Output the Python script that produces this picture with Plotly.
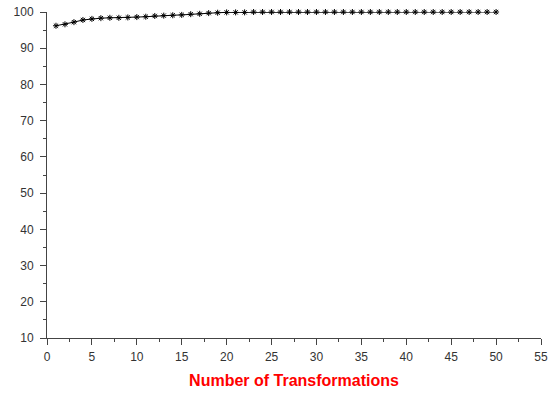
import plotly.graph_objects as go

# Accuracy (%) after each number of transformations
transformations = list(range(1, 51))
accuracy = [
    96.2, 96.6, 97.2, 97.8, 98.1, 98.3, 98.4, 98.4, 98.5, 98.6,
    98.7, 98.9, 99.0, 99.1, 99.2, 99.4, 99.5, 99.7, 99.8, 99.9,
    99.9, 99.9, 100.0, 100.0, 100.0, 100.0, 100.0, 100.0, 100.0, 100.0,
    100.0, 100.0, 100.0, 100.0, 100.0, 100.0, 100.0, 100.0, 100.0, 100.0,
    100.0, 100.0, 100.0, 100.0, 100.0, 100.0, 100.0, 100.0, 100.0, 100.0,
]

x_title = "Number of Transformations"

fig = go.Figure()
fig.add_trace(go.Scatter(
    x=transformations,
    y=accuracy,
    mode="lines+markers",
    line=dict(color="black", width=1),
    marker=dict(symbol="asterisk-open", size=5, color="black",
                line=dict(color="black", width=1)),
    showlegend=False,
    cliponaxis=False,
))

axis_common = dict(
    showgrid=False,
    zeroline=False,
    showline=True,
    linecolor="#444444",
    linewidth=1,
    ticks="outside",
    tickcolor="#444444",
    tickwidth=1,
    automargin=False,
    tickfont=dict(family="Arial, Liberation Sans", size=12, color="#333333"),
)

fig.update_xaxes(
    range=[0, 55],
    tick0=0,
    dtick=5,
    ticklen=6,
    ticklabelstandoff=2,
    minor=dict(dtick=2.5, ticks="outside", ticklen=3, tickcolor="#444444"),
    title=dict(text="<b>" + x_title + "</b>",
               font=dict(family="Arial, Liberation Sans", size=16, color="#ff0000"),
               standoff=11),
    **axis_common,
)
fig.update_yaxes(
    range=[10, 100],
    tick0=10,
    dtick=10,
    ticklen=6,
    ticklabelstandoff=4,
    minor=dict(dtick=5, ticks="outside", ticklen=3, tickcolor="#444444"),
    **axis_common,
)

fig.update_layout(
    width=551,
    height=393,
    margin=dict(l=47, r=10, t=12, b=55),
    paper_bgcolor="white",
    plot_bgcolor="white",
)

fig.write_html("out.html")
